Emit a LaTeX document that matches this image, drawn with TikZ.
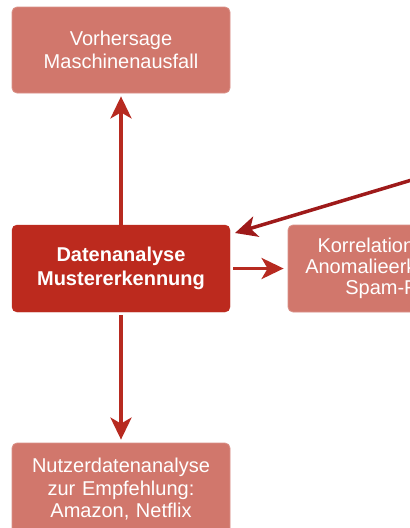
\documentclass[tikz,border=0pt]{standalone}
\usepackage{fontspec}
\setmainfont{Liberation Sans}
\usetikzlibrary{arrows.meta}
\definecolor{lightbox}{HTML}{D1776C}
\definecolor{darkbox}{HTML}{BC2A1E}
\definecolor{arrowred}{HTML}{B72A20}
\definecolor{arrowdark}{HTML}{9E1A1A}
\tikzset{
  box/.style={rectangle, rounded corners=5pt, minimum width=218pt, text width=210pt, align=center, inner sep=0pt, text=white, font=\fontsize{20}{23}\selectfont},
  lightnode/.style={box, fill=lightbox, draw=lightbox!80!white, line width=0.8pt},
  darknode/.style={box, fill=darkbox, draw=darkbox, font=\fontsize{20}{24}\selectfont\bfseries},
  conn/.style={draw=arrowred, line width=3.5pt, -{Stealth[length=22pt, width=21pt, inset=6pt]}},
}
\begin{document}
\begin{tikzpicture}[x=1pt,y=-1pt]
\useasboundingbox (0,0) rectangle (410,528);
\clip (0,0) rectangle (410,528);
\fill[white] (0,0) rectangle (410,528);
\node[lightnode, minimum height=86pt] (top) at (121,50) {Vorhersage\\Maschinenausfall};
\node[darknode, minimum height=87pt] (mid) at (121,268.5) {Datenanalyse\\Mustererkennung};
\node[lightnode, minimum height=87pt, font=\fontsize{20}{21}\selectfont] (right) at (397,268.5) {Korrelationen und\\Anomalieerkennung,\\Spam-Filter};
\node[lightnode, minimum height=93pt, font=\fontsize{20}{22.5}\selectfont] (bot) at (121,489.5) {Nutzerdatenanalyse\\zur Empfehlung:\\Amazon, Netflix};
\coordinate (src) at (470,162.5);
\coordinate (tipd) at (235,233);
\draw[conn, shorten >=3pt] (mid.north) -- (top.south);
\draw[conn, shorten <=3pt, shorten >=3pt] (mid.south) -- (bot.north);
\draw[conn, shorten <=3pt, shorten >=4pt] (mid.east) -- (right.west);
\draw[conn, draw=arrowdark] (src) -- (tipd);
\end{tikzpicture}
\end{document}
